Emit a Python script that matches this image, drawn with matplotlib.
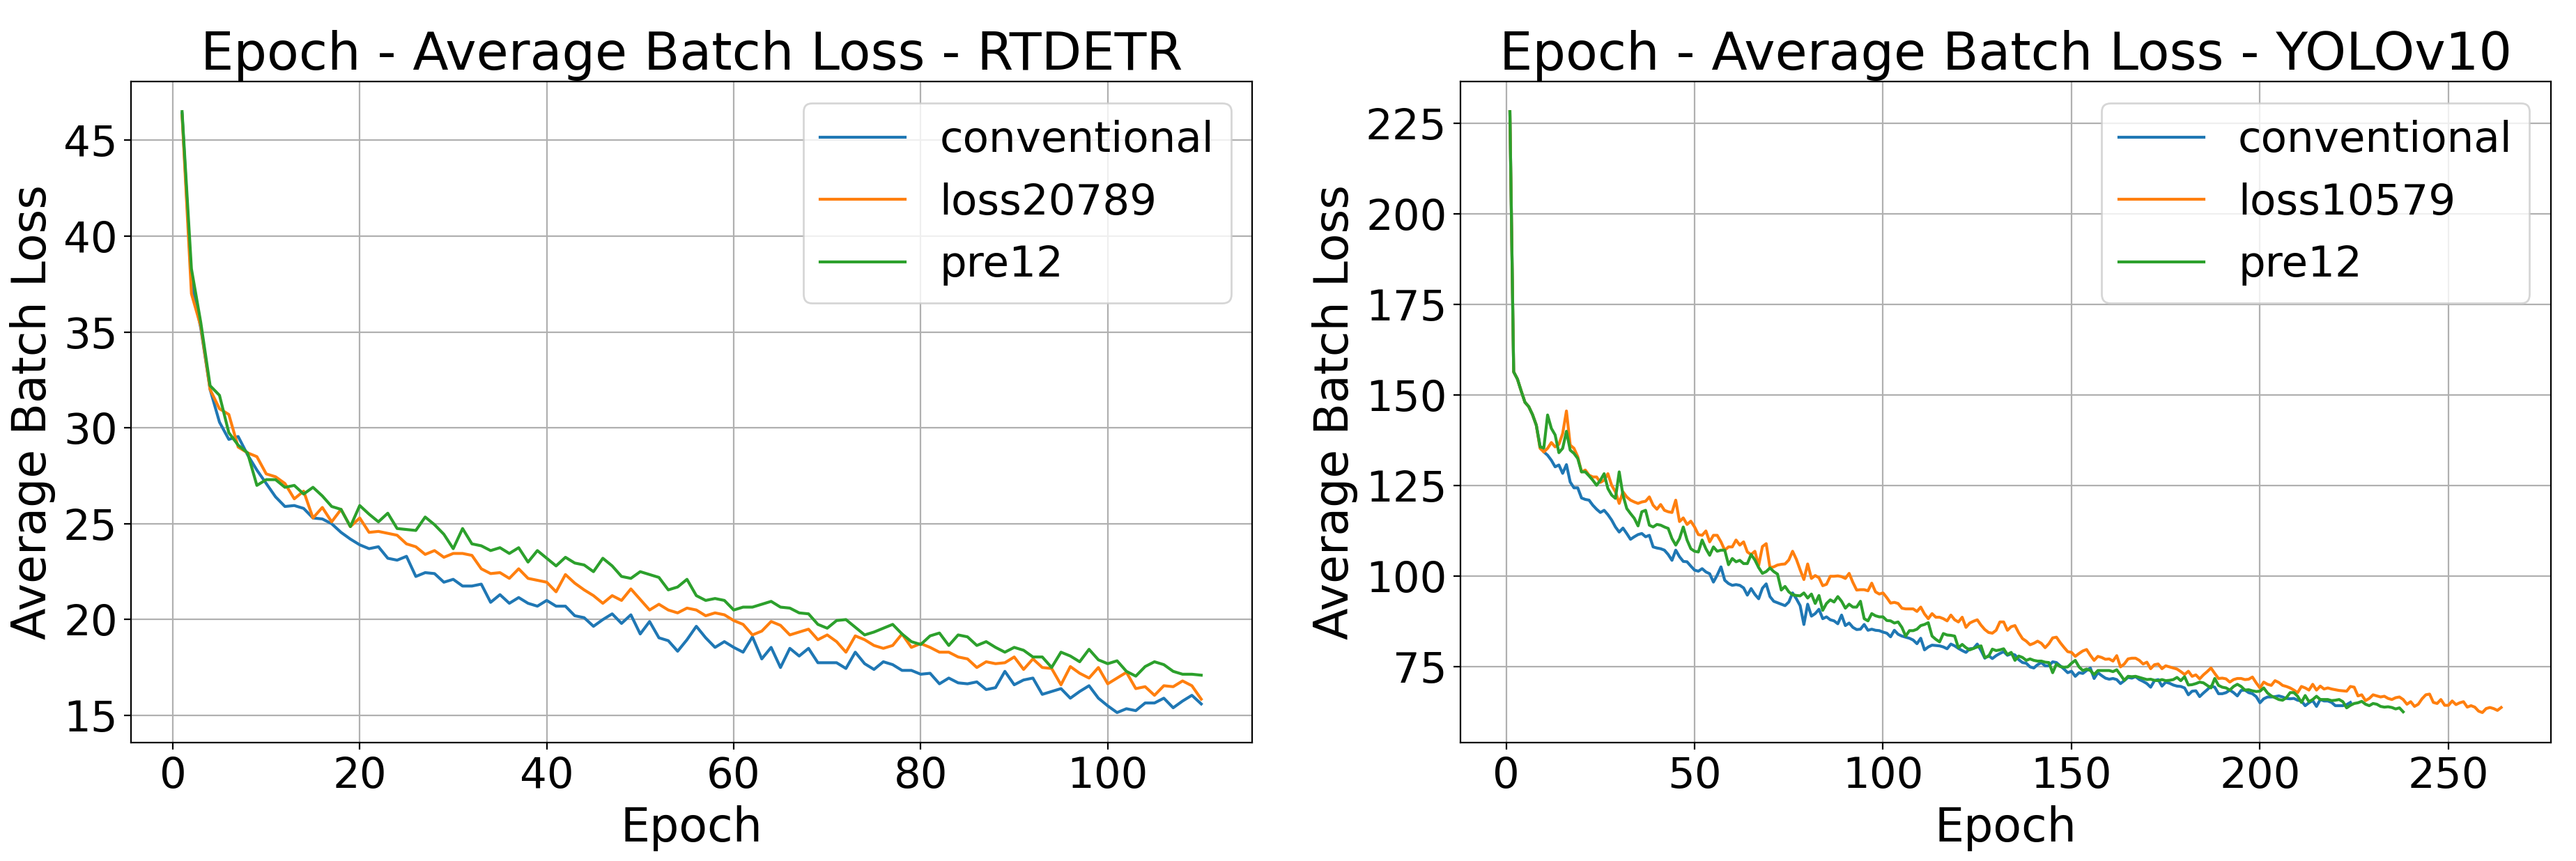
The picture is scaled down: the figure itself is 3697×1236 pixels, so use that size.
import matplotlib
matplotlib.use("Agg")
from matplotlib import pyplot as plt
from matplotlib.ticker import MultipleLocator

# RTDETR, epochs 1..110
rtdetr_conventional = [
    46.4, 37.6, 35.2, 32.0, 30.3, 29.4, 29.55, 28.6, 27.8, 27.1,
    26.4, 25.9, 25.95, 25.8, 25.3, 25.25, 25.0, 24.55, 24.2, 23.9,
    23.7, 23.8, 23.2, 23.1, 23.3, 22.25, 22.45, 22.4, 21.95, 22.1,
    21.75, 21.75, 21.85, 20.9, 21.3, 20.85, 21.15, 20.85, 20.7, 21.0,
    20.7, 20.7, 20.2, 20.1, 19.65, 20.0, 20.3, 19.8, 20.25, 19.25,
    19.9, 19.05, 18.9, 18.35, 18.95, 19.65, 19.05, 18.55, 18.85, 18.55,
    18.3, 19.1, 17.95, 18.55, 17.5, 18.5, 18.1, 18.5, 17.75, 17.75,
    17.75, 17.45, 18.3, 17.7, 17.4, 17.8, 17.65, 17.35, 17.35, 17.15,
    17.2, 16.65, 16.95, 16.7, 16.65, 16.75, 16.35, 16.45, 17.3, 16.6,
    16.85, 16.95, 16.1, 16.25, 16.4, 15.9, 16.25, 16.55, 15.9, 15.5,
    15.15, 15.35, 15.25, 15.65, 15.65, 15.9, 15.4, 15.75, 16.05, 15.6,
]
rtdetr_loss20789 = [
    46.3, 37.0, 35.3, 32.0, 31.0, 30.7, 29.0, 28.7, 28.5, 27.6,
    27.45, 27.1, 26.3, 26.7, 25.3, 25.85, 25.1, 25.75, 24.85, 25.3,
    24.55, 24.6, 24.5, 24.4, 23.95, 23.8, 23.4, 23.6, 23.25, 23.45,
    23.45, 23.35, 22.65, 22.4, 22.45, 22.15, 22.65, 22.15, 22.05, 21.95,
    21.45, 22.35, 21.9, 21.55, 21.25, 20.85, 21.25, 21.0, 21.6, 21.05,
    20.5, 20.8, 20.5, 20.35, 20.6, 20.5, 20.2, 20.35, 20.25, 19.95,
    19.75, 19.2, 19.4, 19.9, 19.7, 19.2, 19.35, 19.5, 18.95, 19.2,
    18.85, 18.3, 19.15, 18.95, 18.65, 18.5, 18.65, 19.25, 18.55, 18.75,
    18.55, 18.3, 18.3, 18.05, 17.95, 17.5, 17.8, 17.7, 17.75, 18.05,
    17.4, 17.95, 17.5, 17.45, 16.6, 17.55, 17.2, 16.95, 17.5, 16.65,
    16.95, 17.25, 16.4, 16.5, 16.05, 16.55, 16.5, 16.8, 16.55, 15.85,
]
rtdetr_pre12 = [
    46.5, 38.3, 35.5, 32.2, 31.7, 29.75, 29.1, 28.7, 27.0, 27.3,
    27.3, 26.9, 27.0, 26.55, 26.9, 26.45, 25.9, 25.75, 24.85, 25.95,
    25.5, 25.1, 25.55, 24.75, 24.7, 24.65, 25.35, 24.95, 24.45, 23.7,
    24.75, 23.95, 23.85, 23.6, 23.75, 23.45, 23.75, 23.0, 23.6, 23.2,
    22.8, 23.25, 22.95, 22.85, 22.5, 23.2, 22.8, 22.25, 22.15, 22.5,
    22.35, 22.2, 21.55, 21.7, 22.1, 21.25, 21.0, 21.1, 21.0, 20.5,
    20.65, 20.65, 20.8, 20.95, 20.65, 20.6, 20.35, 20.3, 19.75, 19.55,
    19.95, 20.0, 19.6, 19.2, 19.35, 19.55, 19.75, 19.25, 18.85, 18.7,
    19.15, 19.3, 18.65, 19.2, 19.1, 18.65, 18.85, 18.55, 18.3, 18.55,
    18.4, 18.05, 18.05, 17.5, 18.3, 18.1, 17.8, 18.45, 17.9, 17.7,
    17.85, 17.3, 17.05, 17.55, 17.8, 17.65, 17.3, 17.15, 17.15, 17.1,
]

# YOLOv10, runs of different length
yolo_conventional = [
    228.2, 156.4, 154.4, 151.1, 148.0, 146.8, 144.6, 141.7, 136.0, 134.3,
    133.4, 132.0, 130.2, 130.7, 128.4, 130.8, 126.0, 124.4, 124.4, 121.6,
    121.2, 121.0, 119.6, 118.5, 117.6, 118.2, 117.0, 115.5, 113.6, 112.2,
    113.3, 111.8, 110.2, 110.9, 111.5, 111.8, 110.9, 111.3, 108.1, 107.8,
    107.6, 107.2, 106.0, 104.4, 107.2, 105.4, 104.1, 104.0, 102.8, 101.7,
    101.4, 102.1, 101.2, 100.7, 98.4, 100.3, 102.6, 98.9, 98.0, 97.5,
    97.7, 97.5, 96.8, 94.8, 96.6, 95.0, 93.8, 96.7, 97.9, 94.4,
    93.1, 92.7, 92.3, 91.9, 92.9, 95.4, 93.8, 91.9, 86.7, 92.3,
    89.0, 89.7, 90.9, 88.3, 88.8, 88.0, 87.7, 86.9, 89.3, 86.4,
    87.1, 85.9, 85.3, 85.4, 86.7, 85.1, 85.4, 85.1, 85.0, 84.6,
    84.3, 83.3, 85.1, 84.0, 83.5, 83.2, 82.9, 82.4, 81.4, 82.9,
    79.7, 80.5, 81.0, 80.9, 80.8, 80.5, 80.0, 81.3, 80.8, 80.1,
    79.5, 79.0, 80.0, 80.1, 81.3, 79.5, 77.4, 78.1, 77.3, 78.1,
    78.7, 79.2, 78.2, 78.6, 78.3, 77.0, 76.2, 76.0, 75.0, 74.7,
    75.6, 76.2, 75.3, 75.3, 76.4, 76.2, 75.3, 74.4, 73.4, 73.8,
    72.4, 73.4, 73.2, 74.0, 74.7, 71.8, 73.4, 72.6, 71.9, 71.6,
    71.8, 71.5, 70.4, 71.2, 72.1, 71.9, 72.3, 71.5, 71.0, 70.4,
    69.4, 71.2, 71.5, 69.7, 70.8, 70.5, 70.0, 69.7, 69.6, 69.2,
    67.3, 68.3, 68.4, 66.8, 67.8, 68.7, 69.7, 69.4, 67.6, 67.6,
    67.9, 68.6, 67.9, 67.0, 68.5, 68.6, 67.9, 67.6, 66.8, 65.1,
    66.2, 66.7, 66.7, 66.8, 67.0, 66.7, 66.3, 66.2, 66.3, 65.8,
    65.6, 64.3, 65.1, 65.7, 64.1, 66.0, 65.6, 65.6, 65.2, 64.3,
    64.3, 64.3, 64.6, 65.2,
]
yolo_loss10579 = [
    228.2, 156.4, 154.4, 151.1, 148.0, 146.8, 144.6, 141.7, 135.3, 134.3,
    135.3, 136.9, 135.7, 136.4, 139.4, 145.6, 136.2, 135.3, 133.0, 128.8,
    129.3, 127.9, 127.4, 127.4, 125.9, 126.5, 128.3, 125.1, 123.3, 120.1,
    123.3, 121.9, 121.0, 120.5, 120.1, 120.5, 120.7, 121.9, 119.6, 118.5,
    119.8, 118.2, 117.8, 117.6, 121.0, 115.1, 116.1, 114.3, 115.2, 113.6,
    111.5, 111.3, 112.5, 109.5, 111.3, 111.3, 109.5, 107.2, 108.1, 108.1,
    110.0, 108.6, 109.5, 106.7, 106.0, 106.9, 103.0, 108.2, 109.0, 102.4,
    102.6, 103.1, 103.3, 103.4, 104.5, 106.9, 104.7, 101.8, 99.1, 103.4,
    99.4, 100.2, 99.6, 97.4, 97.8, 100.0, 100.0, 100.1, 99.9, 99.4,
    100.8, 98.3, 96.2, 96.3, 96.3, 96.0, 98.1, 95.7, 95.1, 95.4,
    94.1, 92.6, 92.8, 92.5, 91.2, 91.0, 91.0, 91.0, 90.3, 91.5,
    89.6, 88.3, 89.7, 88.7, 88.7, 88.3, 87.7, 89.3, 88.0, 87.4,
    88.7, 85.9, 87.1, 87.6, 88.0, 86.5, 85.3, 84.5, 84.3, 85.1,
    87.4, 87.4, 85.1, 86.1, 86.4, 84.4, 82.8, 82.1, 81.1, 81.5,
    82.1, 81.5, 80.3, 81.4, 83.0, 83.2, 81.7, 80.4, 79.2, 79.0,
    77.9, 78.7, 79.4, 79.8, 78.2, 76.8, 77.9, 77.6, 77.1, 77.2,
    76.6, 78.1, 75.0, 75.8, 77.2, 77.4, 77.4, 76.8, 75.8, 76.3,
    74.5, 75.6, 75.8, 74.5, 75.3, 75.0, 74.7, 74.4, 73.7, 72.9,
    73.8, 72.4, 72.8, 71.7, 72.8, 73.7, 74.7, 73.2, 71.8, 71.9,
    71.7, 70.8, 71.5, 71.8, 71.8, 71.5, 71.6, 72.2, 70.6, 69.2,
    70.8, 70.2, 69.9, 71.2, 70.7, 69.9, 69.6, 69.2, 68.6, 67.9,
    69.6, 69.2, 68.6, 70.2, 68.6, 69.7, 68.9, 69.2, 68.9, 68.7,
    68.5, 68.4, 68.3, 69.6, 69.4, 67.0, 67.3, 65.7, 66.3, 67.3,
    67.0, 66.7, 66.9, 66.3, 66.0, 66.5, 66.7, 66.0, 64.7, 65.4,
    64.1, 64.7, 66.2, 67.3, 67.5, 65.2, 64.9, 66.0, 64.4, 64.4,
    65.6, 64.6, 65.1, 65.4, 63.9, 64.3, 63.9, 62.8, 62.4, 63.5,
    63.8, 63.5, 63.0, 63.8,
]
yolo_pre12 = [
    228.2, 156.4, 154.4, 151.1, 148.0, 146.8, 144.6, 141.7, 135.7, 135.4,
    144.5, 140.8, 139.0, 134.1, 135.3, 140.0, 134.8, 133.9, 132.5, 128.8,
    128.8, 127.7, 126.5, 125.1, 126.5, 128.3, 124.2, 122.4, 121.5, 128.8,
    122.4, 118.7, 117.3, 116.0, 113.9, 117.8, 118.2, 114.1, 113.6, 114.3,
    114.1, 113.6, 113.2, 110.4, 108.6, 110.4, 113.6, 110.0, 107.6, 106.9,
    106.7, 110.0, 107.6, 105.8, 108.1, 106.9, 107.2, 107.2, 103.2, 104.9,
    104.0, 104.4, 103.5, 103.5, 106.0, 104.5, 102.4, 100.8, 101.3, 102.3,
    101.3, 100.6, 96.2, 97.2, 95.7, 94.9, 94.7, 94.6, 95.4, 94.0,
    95.1, 92.5, 94.7, 90.6, 92.5, 93.5, 92.9, 94.4, 93.1, 91.2,
    92.3, 91.5, 91.5, 93.1, 88.3, 87.7, 89.7, 89.1, 88.8, 88.8,
    87.8, 87.7, 87.1, 87.4, 85.9, 83.5, 85.0, 85.0, 85.4, 86.4,
    86.7, 87.2, 83.5, 82.6, 81.9, 84.2, 83.8, 83.7, 83.5, 80.3,
    81.2, 80.3, 79.7, 80.1, 80.5, 80.8, 77.6, 77.9, 79.9, 79.5,
    79.7, 80.0, 78.4, 79.0, 76.8, 78.0, 77.6, 76.8, 77.2, 76.8,
    76.6, 76.6, 76.3, 76.2, 73.4, 75.8, 75.1, 74.9, 75.0, 76.0,
    76.8, 75.0, 74.0, 74.4, 74.0, 72.9, 74.0, 74.0, 74.0, 74.0,
    73.7, 74.2, 72.8, 71.3, 72.4, 72.3, 72.4, 72.1, 71.8, 71.5,
    71.6, 71.3, 71.2, 71.5, 71.2, 71.3, 71.5, 72.1, 71.2, 72.3,
    70.0, 70.1, 70.4, 70.8, 70.6, 69.9, 69.2, 71.8, 69.9, 69.4,
    69.2, 68.6, 69.6, 70.2, 69.6, 68.6, 68.7, 68.4, 68.2, 68.3,
    69.2, 67.8, 67.0, 66.5, 66.0, 65.8, 66.5, 67.9, 67.9, 66.9,
    65.2, 67.1, 65.4, 66.0, 66.9, 66.0, 66.0, 66.0, 65.7, 65.8,
    66.0, 65.4, 63.7, 64.4, 64.9, 65.1, 65.5, 64.7, 64.3, 64.9,
    64.7, 64.1, 63.9, 64.0, 63.8, 63.4, 63.7, 62.6,
]


def draw(ax, series, title, ystep):
    for name, values in series:
        epochs = range(1, len(values) + 1)
        ax.plot(epochs, values, label=name)
    ax.set_title(title, fontsize=27)
    ax.set_xlabel("Epoch", fontsize=24)
    ax.set_ylabel("Average Batch Loss", fontsize=24)
    ax.yaxis.set_major_locator(MultipleLocator(ystep))  # 固定y刻度间隔
    ax.tick_params(labelsize=22)
    ax.legend(loc="upper right", fontsize=22)
    ax.grid(True)


fig = plt.figure(figsize=(3697 / 200, 1236 / 200), dpi=200)
ax1 = fig.add_axes([0.0509, 0.1375, 0.4352, 0.7678])
ax2 = fig.add_axes([0.5669, 0.1375, 0.4233, 0.7678])

draw(ax1, [("conventional", rtdetr_conventional),
           ("loss20789", rtdetr_loss20789),
           ("pre12", rtdetr_pre12)],
     "Epoch - Average Batch Loss - RTDETR", 5)
draw(ax2, [("conventional", yolo_conventional),
           ("loss10579", yolo_loss10579),
           ("pre12", yolo_pre12)],
     "Epoch - Average Batch Loss - YOLOv10", 25)

fig.savefig("out.png", dpi=200)
